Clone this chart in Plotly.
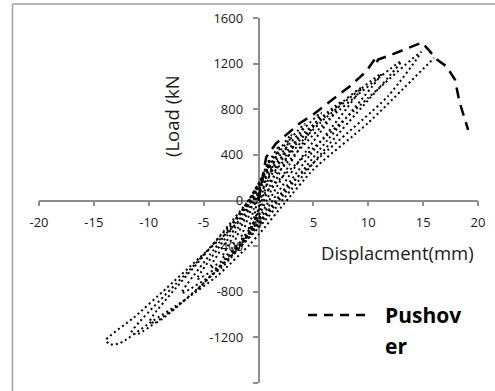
import plotly.graph_objects as go

# ---------------- data ----------------
pushover_disp = [0, 0.3, 0.7, 1.6, 2.8, 3.8, 5.0, 6.8, 8.3, 9.8, 10.6, 10.7, 10.9,
                 12.3, 13.8, 14.9, 15.6, 16.2, 17.1, 17.9, 18.3, 18.8, 19.1]
pushover_load = [0, 160, 380, 500, 600, 680, 755, 885, 1000, 1130, 1240, 1200, 1235,
                 1285, 1340, 1385, 1310, 1240, 1178, 1061, 870, 710, 620]

cyclic_disp = [0, 0.2, 0.5,
               0.2, 0, -0.2, -0.4, -0.2, 0, 0.5, 1.0,
               0.5, 0, -0.45, -0.9, -0.45, 0, 0.9, 1.9,
               0.9, 0, -0.8, -1.6, -0.8, 0, 1.5, 3.0,
               1.5, 0, -1.2, -2.4, -1.2, 0, 2.1, 4.2,
               2.1, 0, -1.65, -3.3, -1.65, 0, 2.85, 5.7,
               2.85, 0, -2.2, -4.4, -2.2, 0, 3.8, 7.6,
               3.8, 0, -2.8, -5.6, -2.8, 0, 4.7, 9.4,
               4.7, 0, -3.5, -7.0, -3.5, 0, 5.6, 11.2,
               5.6, 0, -4.95, -9.9, -9.3, -4.95, 0, 6.5, 13.0,
               6.5, 0, -5.8, -11.6, -11.0, -5.8, 0, 2.7, 5.7, 11.8, 14.8,
               10, 5, 0, -2.3, -5.35, -8.4, -11.4, -13.9,
               -13.5, -12.6, -9.9, -6.9, -3.8, -0.8, 0.1, 2.4, 5, 10, 16.0]
cyclic_load = [0, 100, 230,
               130, 60, -40, -160, -130, -70, 130, 360,
               250, 110, -80, -260, -190, -90, 190, 480,
               330, 140, -110, -340, -250, -110, 240, 580,
               390, 150, -150, -420, -320, -140, 280, 670,
               450, 150, -200, -500, -380, -160, 320, 770,
               500, 150, -250, -590, -450, -180, 360, 870,
               560, 140, -300, -690, -520, -200, 400, 990,
               620, 120, -360, -810, -600, -220, 450, 1110,
               680, 100, -480, -1060, -1070, -720, -240, 500, 1220,
               720, 60, -560, -1160, -1170, -800, -200, 125, 390, 915, 1300,
               900, 460, 10, -230, -500, -770, -1030, -1225,
               -1262, -1250, -1073, -883, -664, -386, -290, -20, 272, 681, 1250]

x_ticks = [-20, -15, -10, -5, 0, 5, 10, 15, 20]
y_ticks = [-1600, -1200, -800, -400, 0, 400, 800, 1200, 1600]

x_title = "Displacment(mm)"
y_title = "(Load (kN"
legend_lines = ["Pushov", "er"]

# ---------------- figure ----------------
FONT = "Open Sans"
AXIS_GREY = "#8e8e8e"

fig = go.Figure()

fig.add_trace(go.Scatter(
    x=cyclic_disp, y=cyclic_load, mode="lines",
    line=dict(color="black", width=2, dash="2px,3px", shape="spline", smoothing=0.6),
    showlegend=False, hoverinfo="skip"))

fig.add_trace(go.Scatter(
    x=pushover_disp, y=pushover_load, mode="lines", name="Pushover",
    line=dict(color="black", width=2.5, dash="11px,7px"),
    showlegend=False, hoverinfo="skip"))

axis_common = dict(showline=True, linecolor=AXIS_GREY, linewidth=1.5,
                   ticks="outside", ticklen=5, tickwidth=1.5, tickcolor=AXIS_GREY,
                   showgrid=False, zeroline=False, layer="below traces",
                   tickfont=dict(family=FONT, size=13, color="#1a1a1a"),
                   anchor="free", position=0.5, fixedrange=True)

fig.update_xaxes(range=[-20, 20], tickvals=x_ticks, ticklabelstandoff=5,
                 ticktext=[str(v) for v in x_ticks], **axis_common)
fig.update_yaxes(range=[-1600, 1600], tickvals=y_ticks, ticklabelstandoff=7,
                 ticktext=[str(v) for v in y_ticks], **axis_common)

annotations = [
    dict(x=12.62, y=-460, xref="x", yref="y", text=x_title, showarrow=False,
         xanchor="center", yanchor="middle",
         font=dict(family=FONT, size=18.5, color="#1a1a1a")),
    dict(x=-7.88, y=741, xref="x", yref="y", text=y_title, showarrow=False,
         xanchor="center", yanchor="middle",
         textangle=-90, font=dict(family=FONT, size=18.5, color="#1a1a1a")),
    dict(x=0.7836, y=0.1863, xref="paper", yref="paper", text="<b>%s</b>" % legend_lines[0],
         showarrow=False, xanchor="left", yanchor="middle",
         font=dict(family=FONT, size=21, color="black")),
    dict(x=0.7836, y=0.1014, xref="paper", yref="paper", text="<b>%s</b>" % legend_lines[1],
         showarrow=False, xanchor="left", yanchor="middle",
         font=dict(family=FONT, size=21, color="black")),
]

shapes = [
    # chart-area frame (left and top edges visible in the cropped picture)
    dict(type="line", xref="paper", yref="paper", x0=-0.0604, x1=-0.0604, y0=-0.05, y1=1.0384,
         line=dict(color="#a0a0a0", width=1.5)),
    dict(type="line", xref="paper", yref="paper", x0=-0.0604, x1=1.1, y0=1.0384, y1=1.0384,
         line=dict(color="#a0a0a0", width=1.5)),
    # legend sample
    dict(type="line", xref="paper", yref="paper", x0=0.6128, x1=0.754, y0=0.1863, y1=0.1863,
         line=dict(color="black", width=2.5, dash="9px,7px")),
]

fig.update_layout(
    width=495, height=391, autosize=False,
    margin=dict(l=39, r=17, t=18, b=8, pad=0),
    paper_bgcolor="white", plot_bgcolor="white",
    font=dict(family=FONT),
    annotations=annotations, shapes=shapes,
    showlegend=False,
)

fig.write_html("out.html")
